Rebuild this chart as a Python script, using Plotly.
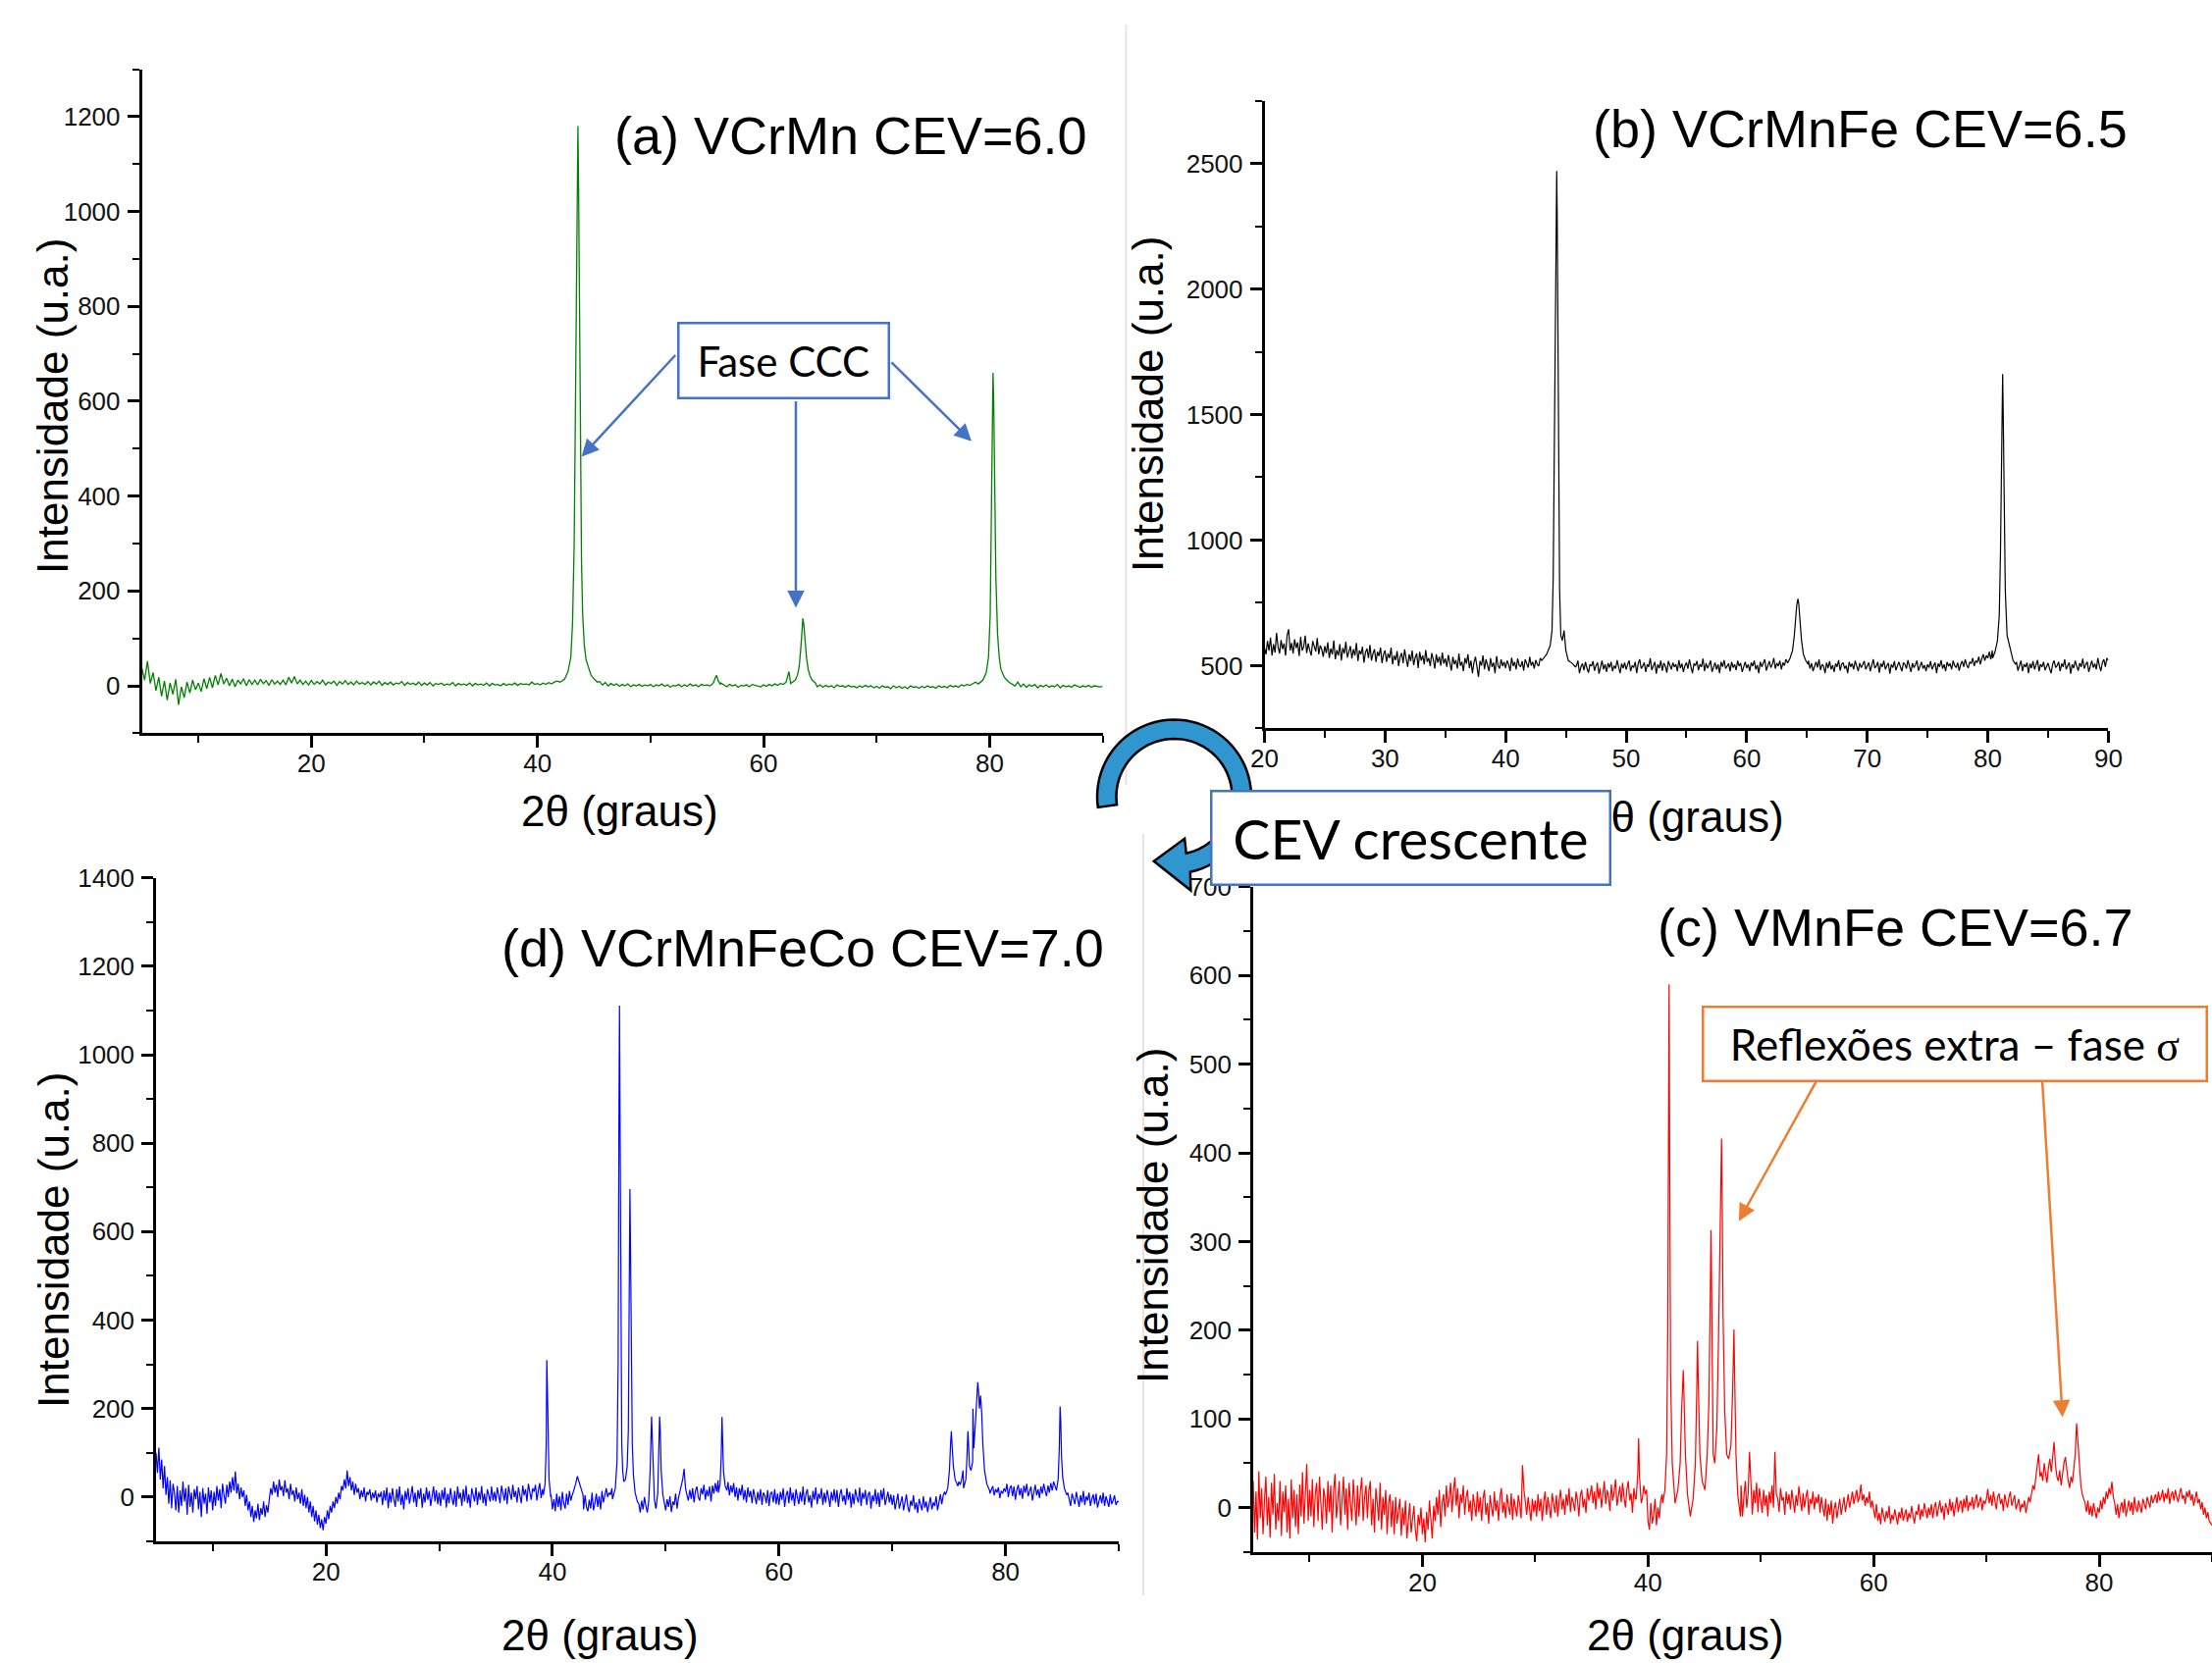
import math
import plotly.graph_objects as go

W, H = 2254, 1695

# ---------------- Panel (a) VCrMn : baseline chunks (start angle -> values, step 0.25) ----------------
a_step = 0.25
a_base = {
    5: [38, 12, 52, 5, 28, -10, 18, -22, 10, -30, 6, -18, 14, -40, -2, -25, 8, -15, 12, -8],
    10: [6, -12, 15, -6, 18, -4, 22, 2, 26, 4, 16, 0, 14, -2, 12, 4, 15, 0, 13, 3],
    15: [12, 2, 14, 5, 11, 1, 13, 4, 10, 3, 12, 2, 18, 6, 20, 4, 12, 3, 10, 2],
    20: [11, 3, 9, 4, 12, 2, 8, 5, 10, 1, 9, 4, 11, 3, 8, 2, 10, 4, 7, 3],
    25: [9, 2, 8, 4, 10, 1, 7, 3, 8, 2, 6, 4, 9, 1, 7, 3, 6, 2, 8, 1],
    30: [6, 2, 7, 0, 5, 3, 6, 1, 4, 2, 7, 0, 5, 2, 4, 1, 6, 0, 5, 2],
    35: [4, 1, 6, 0, 5, 2, 3, 0, 5, 1, 4, 2, 6, 1, 5, 3, 4, 2, 8, 3],
    40: [5, 2, 6, 3, 7, 4, 8, 10, 14, 30, 60, 150, 560, 1180, 480, 150, 55, 38, 22, 15],
    45: [12, 6, 9, 2, 7, 0, 5, 1, 4, -1, 3, 0, 4, -2, 2, 0, 3, -1, 2, 0],
    50: [3, -2, 2, 0, 4, -1, 2, -3, 1, 0, 3, -2, 2, -1, 4, 0, 2, -2, 3, 1],
    55: [2, 0, 4, 8, 18, 6, 2, -2, 3, 0, 2, -3, 1, 0, 2, -2, 3, 1, 0, -2],
    60: [2, -1, 3, 0, 4, 1, 5, 3, 8, 30, 140, 60, 20, 10, 6, 3, 5, 0, 3, -2],
    65: [2, -3, 1, -2, 0, -4, 2, -1, 0, -3, 1, -2, -1, -4, 0, -3, 1, -2, 0, -4],
    70: [-1, -5, 0, -3, -2, -6, 0, -4, -1, -5, -2, -6, 0, -3, -2, -5, -1, -4, 0, -3],
    75: [-2, -5, 0, -3, -1, -4, 1, -2, 0, -3, 2, 0, 3, 1, 5, 8, 12, 20, 35, 70],
    80: [200, 560, 230, 60, 30, 18, 10, 6, 3, 0, 8, -2, 4, -3, 2, -1, 3, -4, 1, -2],
    85: [2, -3, 0, -2, 3, -4, 1, -2, 0, -3, 2, -1, -3, 0, -2, 1, -3, 0, -1, -2],
    90: [-1],
}
a_p1_x = [42.0, 42.4, 42.7, 42.95, 43.1, 43.25, 43.35, 43.45, 43.52, 43.58, 43.64, 43.72, 43.8, 43.9, 44.0, 44.15, 44.3, 44.5, 44.75, 45.0, 45.3]
a_p1_y = [8, 14, 30, 60, 130, 300, 560, 900, 1120, 1180, 1050, 760, 480, 260, 150, 85, 55, 38, 22, 15, 8]
a_p2_x = [55.4, 55.6, 55.75, 55.85, 56.0, 56.2]
a_p2_y = [2, 8, 18, 22, 10, 3]
a_p3_x = [62.4, 62.8, 63.0, 63.15, 63.3, 63.4, 63.48, 63.56, 63.65, 63.8, 63.95, 64.1, 64.3, 64.6]
a_p3_y = [5, 12, 22, 40, 80, 120, 142, 130, 100, 60, 35, 22, 12, 6]
a_p4_x = [79.0, 79.4, 79.7, 79.9, 80.05, 80.15, 80.24, 80.3, 80.36, 80.45, 80.55, 80.7, 80.85, 81.0, 81.3, 81.7, 82.1]
a_p4_y = [4, 12, 28, 60, 150, 320, 560, 660, 600, 420, 230, 110, 60, 35, 18, 8, 3]

# ---------------- Panel (b) VCrMnFe (step 0.125) ----------------
b_step = 0.125
b_base = {
    20: [570, 545, 598, 560, 612, 540, 585, 552, 630, 575, 548, 602, 566, 588, 540, 620, 645, 560, 590, 548,
         605, 570, 592, 538, 615, 560, 575, 620, 550, 588, 562, 540, 598, 572, 556, 610, 545, 580, 565, 535],
    25: [578, 550, 592, 530, 568, 545, 600, 525, 562, 540, 585, 520, 570, 548, 595, 532, 556, 578, 528, 566,
         540, 590, 518, 560, 545, 575, 512, 552, 568, 530, 582, 520, 548, 565, 515, 555, 538, 572, 510, 545],
    30: [560, 515, 548, 530, 572, 505, 540, 522, 558, 498, 535, 550, 510, 565, 528, 495, 545, 518, 560, 502,
         532, 548, 490, 555, 520, 540, 505, 562, 515, 530, 498, 550, 525, 488, 545, 512, 535, 500, 552, 508],
    35: [528, 495, 542, 510, 480, 535, 505, 522, 488, 548, 500, 515, 478, 530, 508, 545, 490, 520, 470, 512,
         535, 495, 455, 518, 500, 540, 485, 525, 505, 478, 530, 495, 512, 470, 538, 500, 488, 525, 498, 515],
    40: [490, 520, 505, 478, 532, 498, 515, 485, 528, 502, 495, 518, 480, 525, 508, 492, 535, 500, 515, 488,
         522, 505, 498, 530, 512, 540, 525, 550, 530, 560, 580, 620, 700, 1200, 2470, 1800, 900, 620, 600, 640],
    45: [560, 540, 520, 505, 485, 512, 478, 500, 520, 470, 495, 508, 482, 515, 490, 472, 505, 498, 518, 480,
         500, 512, 468, 495, 520, 485, 505, 475, 510, 492, 515, 478, 500, 488, 522, 495, 470, 508, 490, 512],
    50: [485, 505, 520, 478, 500, 492, 515, 470, 508, 525, 488, 498, 512, 475, 505, 495, 530, 482, 500, 515,
         468, 505, 490, 520, 480, 510, 498, 472, 518, 500, 485, 512, 495, 505, 478, 522, 490, 508, 475, 500],
    55: [512, 488, 525, 495, 470, 508, 500, 518, 482, 505, 495, 528, 478, 510, 490, 502, 520, 475, 498, 512,
         485, 505, 470, 515, 495, 522, 488, 500, 508, 478, 515, 492, 505, 482, 520, 498, 510, 475, 500, 515],
    60: [490, 505, 478, 512, 498, 520, 485, 502, 470, 515, 495, 508, 525, 480, 500, 518, 492, 505, 530, 488,
         510, 498, 520, 485, 512, 500, 525, 515, 535, 530, 560, 620, 700, 766, 680, 560, 520, 505, 515, 490],
    65: [505, 520, 488, 510, 478, 500, 515, 492, 525, 482, 505, 498, 470, 512, 490, 518, 485, 502, 475, 508,
         495, 522, 480, 505, 512, 488, 500, 470, 515, 495, 508, 485, 520, 498, 478, 510, 492, 505, 518, 485],
    70: [500, 512, 478, 505, 525, 490, 498, 515, 472, 508, 495, 520, 485, 500, 510, 468, 505, 492, 518, 482,
         500, 515, 495, 478, 512, 505, 488, 522, 498, 475, 510, 492, 505, 520, 480, 500, 515, 488, 502, 478],
    75: [505, 492, 518, 485, 500, 512, 470, 508, 495, 522, 488, 505, 478, 515, 498, 508, 485, 520, 500, 492,
         512, 480, 505, 518, 495, 525, 502, 490, 515, 508, 530, 498, 520, 512, 535, 505, 528, 545, 520, 540],
    80: [530, 555, 525, 560, 540, 580, 600, 700, 950, 1661, 1150, 700, 600, 570, 560, 540, 520, 505, 490, 515,
         480, 500, 520, 478, 505, 495, 512, 470, 508, 490, 518, 485, 500, 522, 478, 505, 495, 515, 482, 500],
    85: [510, 488, 470, 505, 520, 492, 500, 515, 478, 508, 495, 525, 485, 500, 512, 468, 505, 490, 520, 498,
         480, 510, 495, 528, 488, 505, 515, 475, 500, 520, 492, 508, 485, 530, 500, 478, 512, 525, 495, 530],
    90: [520],
}
b_p1_x = [43.0, 43.4, 43.7, 43.85, 43.95, 44.05, 44.12, 44.18, 44.24, 44.28, 44.33, 44.4, 44.48, 44.58, 44.7, 44.85, 45.0, 45.2, 45.5, 45.8]
b_p1_y = [520, 545, 580, 640, 850, 1350, 1900, 2200, 2470, 2300, 1800, 1250, 800, 620, 600, 640, 560, 520, 510, 495]
b_p2_x = [63.4, 63.6, 63.8, 63.95, 64.05, 64.15, 64.25, 64.32, 64.42, 64.55, 64.7, 64.9, 65.1]
b_p2_y = [510, 530, 560, 620, 690, 740, 766, 745, 680, 600, 545, 520, 505]
b_p3_x = [80.4, 80.6, 80.8, 80.95, 81.05, 81.12, 81.18, 81.23, 81.28, 81.35, 81.45, 81.6, 81.75, 81.9, 82.1, 82.3]
b_p3_y = [530, 555, 600, 700, 950, 1300, 1550, 1661, 1500, 1150, 800, 620, 585, 560, 520, 505]

# ---------------- Panel (d) VCrMnFeCo (step 0.125) ----------------
d_step = 0.125
d_base = {
    5: [100, 55, 112, 40, 85, 20, 70, 5, 45, -15, 38, -25, 30, 10, -30, 25, -35, 15, -20, 35,
        -10, 20, -40, 28, -22, 10, -35, 18, -5, 25, -28, 12, -45, 20, -15, 8, -38, 22, -12, 15],
    10: [-30, 12, -20, 25, -8, 18, -25, 30, 5, -15, 28, 0, 35, 10, 45, 15, 58, 8, 30, -5,
         22, 0, 15, -20, 5, -30, -10, -45, -20, -56, -30, -48, -15, -52, -25, -40, -10, -45, -18, -35],
    15: [-5, 20, 5, 35, 10, 28, 0, 40, 15, 25, 2, 38, 10, 20, -5, 30, 5, 15, -10, 22,
         -5, 10, -15, 18, -20, 5, -25, 0, -35, -10, -45, -20, -55, -30, -62, -40, -70, -50, -75, -45],
    20: [-60, -30, -50, -20, -35, -10, -25, 0, -15, 10, -5, 25, 15, 40, 20, 60, 25, 45, 15, 35,
         5, 30, 10, 20, -5, 15, 0, 22, -10, 12, 5, 18, -8, 10, -2, 15, -12, 8, 0, 12],
    25: [-18, 15, -8, 22, -25, 10, -12, 20, -5, -22, 18, -10, 24, -18, 6, -28, 14, -6, 20, -15,
         4, 25, -12, 10, -22, 16, -4, 20, -24, 8, -12, 22, -6, 14, -20, 4, 24, -10, 16, -16],
    30: [10, -20, 16, -6, 22, -24, 8, -14, 20, -2, -18, 14, -22, 24, -4, 10, -20, 18, -10, 26,
         -14, 6, -24, 20, 2, -10, 22, -18, 12, -6, 25, -14, 8, -20, 18, 4, -10, 24, -8, 12],
    35: [-10, 22, 4, -14, 26, 6, -8, 20, -16, 24, 10, -6, 28, 0, 14, -12, 22, 6, -14, 26,
         4, 18, -10, 30, 8, -6, 20, 12, 28, -8, 14, 32, -2, 18, 8, 26, -6, 14, 20, 6],
    40: [-28, -5, -32, 8, -22, 2, -30, 12, -14, -26, 8, -18, 14, -8, 18, 25, 40, 45, 30, 20,
         5, -12, -28, 4, -22, -32, -6, -26, 10, -30, -14, 8, -22, 2, -28, 14, -12, 8, 20, 0],
    45: [10, 5, 20, 30, 60, 300, 1111, 640, 120, 60, 40, 70, 150, 696, 420, 120, 10, -10, -25, 5,
         -30, -15, -35, -8, -28, 0, -20, -35, -10, 60, 182, 60, -5, -25, -10, -30, -5, -20, -32, -12],
    50: [-30, -5, -22, 2, -34, -10, -18, 8, -26, -2, 12, 25, 40, 64, 20, 5, -8, 16, -4, 20,
         -12, 14, 24, 0, -8, 20, 6, 28, -6, 16, 2, 24, -10, 26, 8, 32, 12, 38, 18, 40],
    55: [181, 60, 28, 12, 34, 4, 26, 10, 32, 0, 22, -8, 20, 4, 28, -6, 16, -12, 22, 0,
         14, -14, 18, -4, -16, 12, -8, 18, -18, 10, 4, -14, 16, -20, 8, 12, -12, 18, -16, 8],
    60: [-18, 12, -6, 20, -22, 4, 14, -14, 22, -8, 10, -20, 18, 0, -16, 12, -10, 24, -18, 6,
         18, -12, 4, -24, 14, -6, 22, -16, 8, -4, 20, -18, 10, -12, 16, 0, -22, 12, -8, 18],
    65: [-12, 16, -22, 6, 18, -10, 4, -18, 20, -6, 12, -24, 8, -16, 18, 0, -12, 22, -20, 10,
         -4, 16, -18, 6, 12, -26, 4, -10, 18, -16, 10, -22, 16, -6, 20, -18, 0, 12, -12, 6],
    70: [-18, 4, -28, -6, 8, -26, -10, 2, -30, -14, 6, -22, -34, -8, -20, 4, -28, -12, -36, -4,
         -20, -30, 2, -24, -10, -34, -16, 0, -28, -12, -20, 2, -30, -10, 6, -16, 4, 12, 20, 40],
    75: [120, 149, 70, 35, 25, 30, 22, 35, 28, 40, 60, 149, 80, 70, 110, 220, 260, 200, 230, 120,
         40, 20, 10, 25, 5, 18, 12, 2, 20, 8, 15, 25, 4, 18, 10, 22, -2, 14, 8, 20],
    80: [12, 30, 0, 20, 26, 2, 24, -6, 16, 28, 4, 20, -4, 26, 10, 30, 2, 16, 24, -8,
         12, 28, 4, 18, -2, 24, 8, 30, 14, 2, 26, 10, 32, 15, 35, 25, 50, 80, 205, 170],
    85: [45, 20, 5, -14, 10, -8, -20, 8, -2, -16, 12, -6, -22, 4, -12, 14, -18, 2, -8, 10,
         -20, -4, 6, -16, 8, -24, -6, 4, -14, 10, -20, 2, -10, -22, 6, -16, -8, 4, -18, -10],
    90: [-10],
}
d_p1_x = [39.2, 39.35, 39.45, 39.5, 39.55, 39.62, 39.7, 39.85]
d_p1_y = [5, 30, 120, 310, 250, 140, 40, 0]
d_p2_x = [41.7, 41.9, 42.05, 42.2, 42.35, 42.5, 42.7]
d_p2_y = [0, 15, 30, 47, 35, 20, 5]
d_p3_x = [45.3, 45.55, 45.7, 45.8, 45.87, 45.92, 45.96, 46.0, 46.05, 46.12, 46.2, 46.3, 46.45, 46.6, 46.7, 46.78, 46.84, 46.88, 46.93, 46.98, 47.05, 47.15, 47.3, 47.5]
d_p3_y = [-5, 20, 80, 300, 850, 1111, 900, 640, 300, 120, 60, 35, 40, 70, 150, 450, 696, 600, 420, 250, 120, 50, 10, -10]
d_p4_x = [49.15, 49.3, 49.4, 49.46, 49.52, 49.6, 49.75, 49.9]
d_p4_y = [-25, 10, 90, 182, 150, 60, 5, -20]
d_p5_x = [54.65, 54.8, 54.9, 54.97, 55.03, 55.1, 55.25, 55.4]
d_p5_y = [10, 30, 90, 181, 140, 60, 25, 15]
d_p6_x = [74.7, 74.9, 75.05, 75.15, 75.22, 75.3, 75.4, 75.55, 75.8]
d_p6_y = [5, 20, 60, 120, 149, 110, 70, 40, 25]
d_p7_x = [76.3, 76.5, 76.6, 76.68, 76.74, 76.82, 76.95, 77.1]
d_p7_y = [20, 40, 90, 149, 120, 70, 60, 80]
d_p8_x = [77.2, 77.35, 77.45, 77.55, 77.62, 77.7, 77.8, 77.9, 78.0, 78.15, 78.35, 78.6]
d_p8_y = [110, 170, 220, 260, 240, 200, 230, 190, 120, 60, 30, 15]
d_p9_x = [84.5, 84.65, 84.75, 84.82, 84.88, 84.95, 85.05, 85.2, 85.4]
d_p9_y = [15, 40, 110, 205, 170, 90, 45, 20, 5]

# ---------------- Panel (c) VMnFe (step 0.125) ----------------
c_step = 0.125
c_base = {
    5: [30, -28, 18, -36, 41, -12, 22, -30, 8, 35, -20, 12, -34, 28, -8, 38, -25, 5, -15, 30,
        -32, 18, -5, 25, -28, 10, -35, 32, -12, 20, -22, 15, -30, 26, -10, 40, -18, 12, 49, -15],
    10: [20, -10, 32, -22, 15, 28, -15, 35, 0, -25, 22, 10, -18, 30, -5, 25, -28, 18, 38, -12,
         8, 30, -20, 15, 35, -8, 22, -25, 28, 5, -15, 32, 10, -20, 25, -10, 18, 34, -15, 12],
    15: [25, -12, 18, 30, -20, 10, -28, 22, 5, -15, 28, -25, 12, -8, 20, -30, 5, 15, -22, 8,
         -30, 12, -18, -5, 10, -32, 0, -20, 8, -35, -10, 5, -28, -15, 2, -25, -38, -8, -20, 0],
    20: [-30, -12, -39, -5, -25, 8, -20, -35, 2, -15, 12, -8, 20, -22, 5, 15, -10, 25, 0, 10,
         28, -5, 18, 34, 2, 22, -12, 15, 5, 25, -8, 12, 20, -5, 8, -15, 15, 2, -10, 18],
    25: [-5, 12, -15, 10, 20, -8, 5, -18, 14, 0, -10, 18, -4, 8, -15, 12, 22, -6, 6, -12,
         15, 2, -8, 16, -14, 10, 0, -10, 14, 4, -12, 48, 20, 5, -8, 12, 0, -15, 10, -5],
    30: [8, -10, 15, -4, 10, -15, 6, 18, -8, 12, 0, -12, 16, 4, -6, 14, -10, 8, 20, -2,
         10, -8, 15, 2, 22, -5, 12, 6, -4, 18, 8, -10, 14, 20, 0, 10, -6, 22, 8, 15],
    35: [25, 5, 18, -2, 28, 10, 22, 0, 15, 30, 4, 20, 12, -4, 26, 8, 18, 32, 2, 15,
         24, 6, 28, 12, 0, 20, 30, 8, 16, -6, 22, 10, 35, 5, -2, 18, 10, 25, 15, 20],
    40: [-15, -25, 5, -18, -8, 10, -20, 0, -12, 8, 15, -5, 20, 10, 25, 60, 590, 150, 5, 50,
         110, 155, 60, 10, -10, 20, 60, 188, 80, 30, 20, 60, 120, 313, 120, 50, 190, 416, 220, 60],
    45: [60, 120, 313, 120, 50, 190, 416, 220, 60, 60, 130, 201, 60, 15, -10, 5, 28, -8, 15, 35,
         5, 63, 20, -5, 18, 2, 25, -10, 12, 30, 0, 15, 63, 20, -8, 20, 5, 28, -5, 22],
    50: [8, -6, 20, 2, 14, -10, 18, 5, 25, 0, 63, 15, 10, -5, 22, 8, 12, -8, 18, 4,
         15, -2, 20, 6, -6, 14, 2, 24, 8, -4, 16, 0, 12, 20, -8, 10, 4, 18, -2, 12],
    55: [5, 15, -6, 12, 0, -10, 10, -15, 4, -8, 8, -18, -2, 6, -12, 0, 10, -8, 4, 12,
         -5, 8, 15, 0, 10, 18, 4, 14, 20, 6, 12, 26, 8, 15, 2, 12, 5, 18, 0, 8],
    60: [-2, -12, 4, -15, -6, -19, 0, -10, -16, -4, -12, 2, -18, -8, -14, -2, -10, -19, -5, -12,
         0, -15, -8, -2, -16, -6, -12, 2, -10, -18, -4, -8, 4, -14, -2, -10, 5, -6, -12, 0],
    65: [-8, 4, -12, 0, 6, -10, -2, 8, -6, 2, -14, 5, 0, -8, 10, -4, 6, -10, 2, 12,
         -5, 4, 8, -6, 10, 0, 14, -4, 6, 2, 12, -2, 8, 15, 0, 6, 12, -3, 8, 4],
    70: [10, 21, 5, 14, 2, 18, 8, -2, 12, 16, 4, 10, -4, 15, 6, 0, 12, 18, 2, 8,
         14, -2, 6, 10, -5, 4, 0, 8, -6, 2, 12, 6, 15, 25, 20, 35, 45, 60, 35, 40],
    75: [30, 50, 38, 28, 45, 55, 40, 60, 74, 48, 35, 30, 42, 25, 38, 50, 57, 40, 30, 22,
         35, 28, 45, 60, 95, 70, 40, 25, 15, 10, 5, -5, 8, -8, 2, -10, 5, -4, -12, 0],
    80: [-6, 8, -2, 12, 4, 18, 10, 22, 15, 29, 12, 5, -8, 4, -12, 0, 6, -6, 10, -10,
         2, 8, -4, 6, -8, 12, 0, -5, 8, 2, -6, 10, 4, -2, 12, 6, 0, 14, 5, 10],
    85: [15, 5, 18, 8, 12, 20, 6, 16, 10, 22, 4, 14, 18, 8, 20, 12, 6, 16, 22, 10,
         14, 4, 18, 12, 20, 8, 15, 2, 12, 18, 5, 10, -2, 6, -8, 0, -12, -5, -15, -18],
    90: [-20],
}
c_p1_x = [38.95, 39.1, 39.17, 39.25, 39.4]
c_p1_y = [10, 40, 78, 35, 5]
c_p2_x = [41.3, 41.5, 41.65, 41.75, 41.82, 41.87, 41.92, 42.0, 42.15, 42.4, 42.65, 42.85, 42.98, 43.08, 43.13, 43.2,
          43.32, 43.5, 43.75, 44.0, 44.2, 44.32, 44.39, 44.46, 44.6, 44.8, 45.05, 45.25, 45.4, 45.52, 45.59, 45.66,
          45.78, 45.92, 46.1, 46.25, 46.4, 46.48, 46.52, 46.57, 46.65, 46.8, 46.98, 47.15, 47.35, 47.5, 47.58, 47.62,
          47.68, 47.8, 47.95, 48.2]
c_p2_y = [5, 20, 60, 200, 480, 590, 400, 150, 50, 5, 20, 50, 110, 150, 155, 120,
          60, 15, -10, 10, 50, 130, 188, 140, 60, 30, 20, 60, 120, 240, 313, 220,
          60, 50, 90, 190, 330, 400, 416, 360, 220, 110, 60, 55, 70, 130, 190, 201,
          150, 60, 15, -10]


def build(base, step, segments):
    pts = []
    for start, vals in base.items():
        for j, v in enumerate(vals):
            x = round(start + step * j, 4)
            if any(min(sx) <= x <= max(sx) for sx, _ in segments):
                continue
            pts.append((x, v))
    for sx, sy in segments:
        pts.extend(zip(sx, sy))
    pts.sort()
    return [p[0] for p in pts], [p[1] for p in pts]


ax_, ay_ = build(a_base, a_step, [(a_p1_x, a_p1_y), (a_p2_x, a_p2_y), (a_p3_x, a_p3_y), (a_p4_x, a_p4_y)])
bx_, by_ = build(b_base, b_step, [(b_p1_x, b_p1_y), (b_p2_x, b_p2_y), (b_p3_x, b_p3_y)])
dx_, dy_ = build(d_base, d_step, [(d_p1_x, d_p1_y), (d_p2_x, d_p2_y), (d_p3_x, d_p3_y), (d_p4_x, d_p4_y),
                                  (d_p5_x, d_p5_y), (d_p6_x, d_p6_y), (d_p7_x, d_p7_y), (d_p8_x, d_p8_y),
                                  (d_p9_x, d_p9_y)])
cx_, cy_ = build(c_base, c_step, [(c_p1_x, c_p1_y), (c_p2_x, c_p2_y)])

fig = go.Figure()
fig.add_trace(go.Scatter(x=ax_, y=ay_, mode='lines', line=dict(color='#008000', width=1.3), xaxis='x', yaxis='y'))
fig.add_trace(go.Scatter(x=bx_, y=by_, mode='lines', line=dict(color='#000000', width=1.2), xaxis='x2', yaxis='y2'))
fig.add_trace(go.Scatter(x=dx_, y=dy_, mode='lines', line=dict(color='#0000FF', width=1.2), xaxis='x3', yaxis='y3'))
fig.add_trace(go.Scatter(x=cx_, y=cy_, mode='lines', line=dict(color='#FF0000', width=1.2), xaxis='x4', yaxis='y4'))

TICKFONT = dict(family='Liberation Sans, Arial, sans-serif', size=26, color='#111111')


def dom_x(l, r):
    return [l / W, min(r / W, 1.0)]


def dom_y(t, b):
    return [1 - b / H, 1 - t / H]


def axis(dom, rng, dtick, minor, anchor, standoff):
    return dict(domain=dom, range=rng, anchor=anchor, showline=True, linecolor='black', linewidth=2.5,
                ticks='outside', ticklen=12, tickwidth=2.5, tickcolor='black', tickmode='linear', tick0=0,
                dtick=dtick, minor=dict(dtick=minor, tick0=0, ticks='outside', ticklen=7, tickwidth=2,
                                        tickcolor='black'),
                showgrid=False, zeroline=False, tickfont=TICKFONT, ticklabelstandoff=standoff,
                fixedrange=True, automargin=False)


fig.update_layout(
    width=W, height=H, margin=dict(l=0, r=0, t=0, b=0, pad=0, autoexpand=False), showlegend=False,
    paper_bgcolor='white', plot_bgcolor='white',
    xaxis=axis(dom_x(144.5, 1123.6), [5, 90], 20, 10, 'y', -6),
    yaxis=axis(dom_y(70.5, 747.4), [-100, 1300], 200, 100, 'x', 2),
    xaxis2=axis(dom_x(1288.5, 2148.4), [20, 90], 10, 5, 'y2', -6),
    yaxis2=axis(dom_y(102.6, 742.4), [250, 2750], 500, 250, 'x2', 2),
    xaxis3=axis(dom_x(159, 1140), [5, 90], 20, 10, 'y3', -6),
    yaxis3=axis(dom_y(894.7, 1571), [-100, 1400], 200, 100, 'x3', 2),
    xaxis4=axis(dom_x(1277, 2254), [5, 90], 20, 10, 'y4', -6),
    yaxis4=axis(dom_y(903.9, 1581.8), [-50, 700], 100, 50, 'x4', 2),
)


def P(x, y):
    return x / W, 1 - y / H


ARIAL = 'Liberation Sans, Arial, sans-serif'
anns = []


def text_at(px_, py_, text, size, angle=0, family=ARIAL):
    x, y = P(px_, py_)
    anns.append(dict(x=x, y=y, xref='paper', yref='paper', text=text, showarrow=False, textangle=angle,
                     xanchor='center', yanchor='middle', font=dict(family=family, size=size, color='black')))


# panel titles
text_at(866.5, 138, '(a) VCrMn CEV=6.0', 54)
text_at(1895.5, 131, '(b) VCrMnFe CEV=6.5', 54)
text_at(818, 966, '(d) VCrMnFeCo CEV=7.0', 54)
text_at(1931, 945, '(c) VMnFe CEV=6.7', 54)
# axis titles
for (xx, yy) in [(631, 826), (1717, 832), (611, 1666), (1717, 1666)]:
    text_at(xx, yy, '2θ (graus)', 44)
for (xx, yy) in [(53, 414), (1169, 412), (54, 1264), (1174, 1239)]:
    text_at(xx, yy, 'Intensidade (u.a.)', 44, angle=-90)


def boxed(l, t, r, b, text, size, color, bw=2.5):
    x, y = P((l + r) / 2, (t + b) / 2)
    anns.append(dict(x=x, y=y, xref='paper', yref='paper', text=text, showarrow=False,
                     xanchor='center', yanchor='middle', align='center', valign='middle',
                     width=(r - l) - 2 * bw, height=(b - t) - 2 * bw, borderpad=0, borderwidth=bw,
                     bordercolor=color, bgcolor='white',
                     font=dict(family='Lato, Noto Sans, sans-serif', size=size, color='black')))


def arrow(xd, yd, xr, yr, axp, ayp, color):
    anns.append(dict(x=xd, y=yd, xref=xr, yref=yr, ax=axp, ay=ayp, text='', showarrow=True,
                     arrowhead=2, arrowsize=1.4, arrowwidth=2.5, arrowcolor=color))


BLUE = '#4472C4'
ORANGE = '#ED7D31'
arrow(43.9, 483, 'x', 'y', 97, -105, BLUE)
arrow(62.86, 164.5, 'x', 'y', 0, -212, BLUE)
arrow(78.4, 515.5, 'x', 'y', -83, -82, BLUE)
arrow(48.05, 323, 'x4', 'y4', 82, -148, ORANGE)
arrow(76.75, 101.8, 'x4', 'y4', -21, -349, ORANGE)

boxed(690, 328, 906.5, 407, 'Fase CCC', 42, BLUE)
boxed(1734, 1025, 2250, 1103,
      'Reflexões extra – fase <span style="font-family:Liberation Serif, serif">σ</span>', 44, ORANGE)
boxed(1233, 805, 1642, 903, 'CEV crescente', 57, BLUE)

# circular arrow (decoration)
ccx, ccy = 1196.5, 812
ro, ri = 78.5, 59
a0, a1 = 188, -78


def polar(r, deg):
    t = math.radians(deg)
    return ccx + r * math.cos(t), ccy - r * math.sin(t)


pts = [polar(ro, a0 + (a1 - a0) * k / 60) for k in range(61)]
pts += [polar(97, -80), polar(69, -107.5), polar(44, -76)]
pts += [polar(ri, a1 + (a0 - a1) * k / 60) for k in range(61)]
path = 'M ' + ' L '.join('%.5f,%.5f' % P(x, y) for x, y in pts) + ' Z'

shapes = [
    dict(type='line', xref='paper', yref='paper', x0=1147.5 / W, x1=1147.5 / W, y0=1 - 25 / H, y1=1 - 800 / H,
         line=dict(color='#e4e4e4', width=2), layer='below'),
    dict(type='line', xref='paper', yref='paper', x0=1165 / W, x1=1165 / W, y0=1 - 850 / H, y1=1 - 1626 / H,
         line=dict(color='#e4e4e4', width=2), layer='below'),
    dict(type='path', xref='paper', yref='paper', path=path, fillcolor='#2F96CF',
         line=dict(color='black', width=2.5), layer='above'),
]

fig.update_layout(annotations=anns, shapes=shapes)
fig.write_html('out.html', config={'displayModeBar': False},
               post_script="document.body.style.margin='0';")
